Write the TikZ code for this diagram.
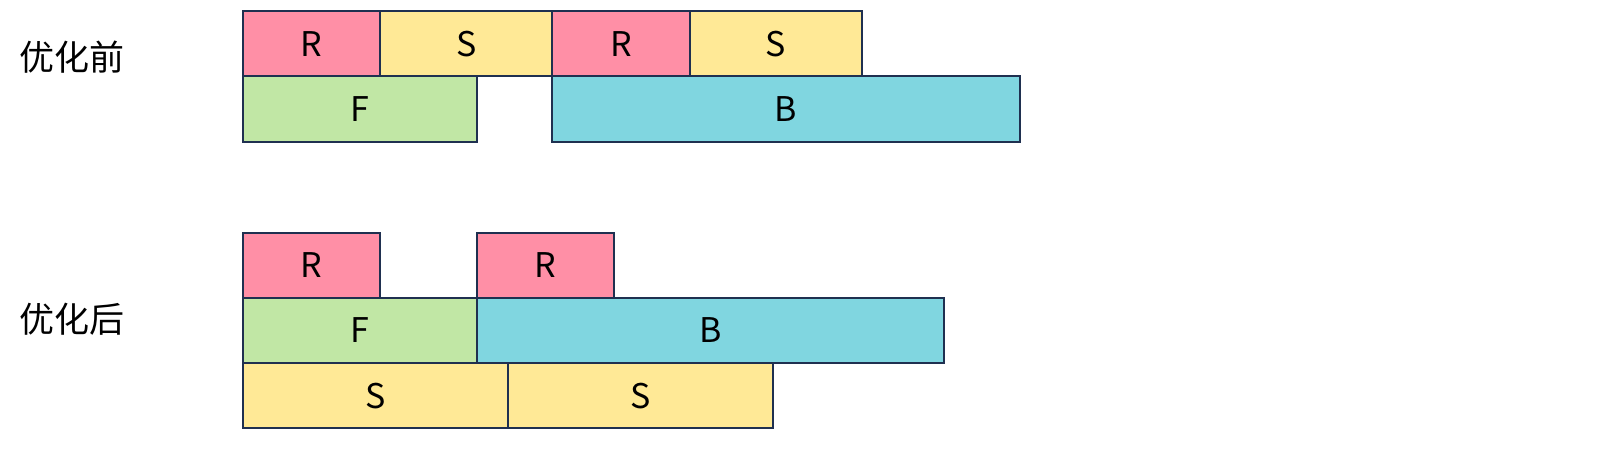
\documentclass[tikz,border=0pt]{standalone}
\usepackage{fontspec}
\setmainfont{Noto Sans CJK SC}
\usepackage{xcolor}
\definecolor{edgeblue}{HTML}{1F3050}
\definecolor{rpink}{HTML}{FF8FA6}
\definecolor{syellow}{HTML}{FFE996}
\definecolor{fgreen}{HTML}{C1E7A5}
\definecolor{bcyan}{HTML}{80D6E0}

\begin{document}
\begin{tikzpicture}[x=0.5pt, y=-0.5pt,
    blk/.style={draw=edgeblue, line width=1pt, inner sep=0pt, outer sep=0pt,
        anchor=north west, minimum height=32.6pt, minimum width=#1*0.5pt,
        font=\fontsize{17pt}{20pt}\selectfont},
    rblk/.style={blk=137.3, fill=rpink},
    sblk/.style={blk=#1, fill=syellow},
    fblk/.style={blk=233.7, fill=fgreen},
    bblk/.style={blk=467.3, fill=bcyan},
    tag/.style={anchor=west, font=\fontsize{17.5pt}{20pt}\selectfont}]
        \useasboundingbox (0,0) rectangle (1607,458);

        % Before
        \node[tag] (before) at (12,57) {优化前};
        \node[rblk] (r1) at (242.9,11.3) {R};
        \node[sblk=172.2] (s1) at (r1.north east) {S};
        \node[rblk] (r2) at (s1.north east) {R};
        \node[sblk=172.2] (s2) at (r2.north east) {S};
        \node[fblk] (f1) at (r1.south west) {F};
        \node[bblk] (b1) at (r2.south west) {B};

        % After
        \node[tag] (after) at (12,319) {优化后};
        \node[rblk] (r3) at (242.9,232.6) {R};
        \node[fblk] (f2) at (r3.south west) {F};
        \node[rblk] (r4) at (f2.north east) [anchor=south west] {R};
        \node[bblk] (b2) at (f2.north east) {B};
        \node[sblk=265.4] (s3) at (f2.south west) {S};
        \node[sblk=264.5] (s4) at (s3.north east) {S};
    \end{tikzpicture}
\end{document}
